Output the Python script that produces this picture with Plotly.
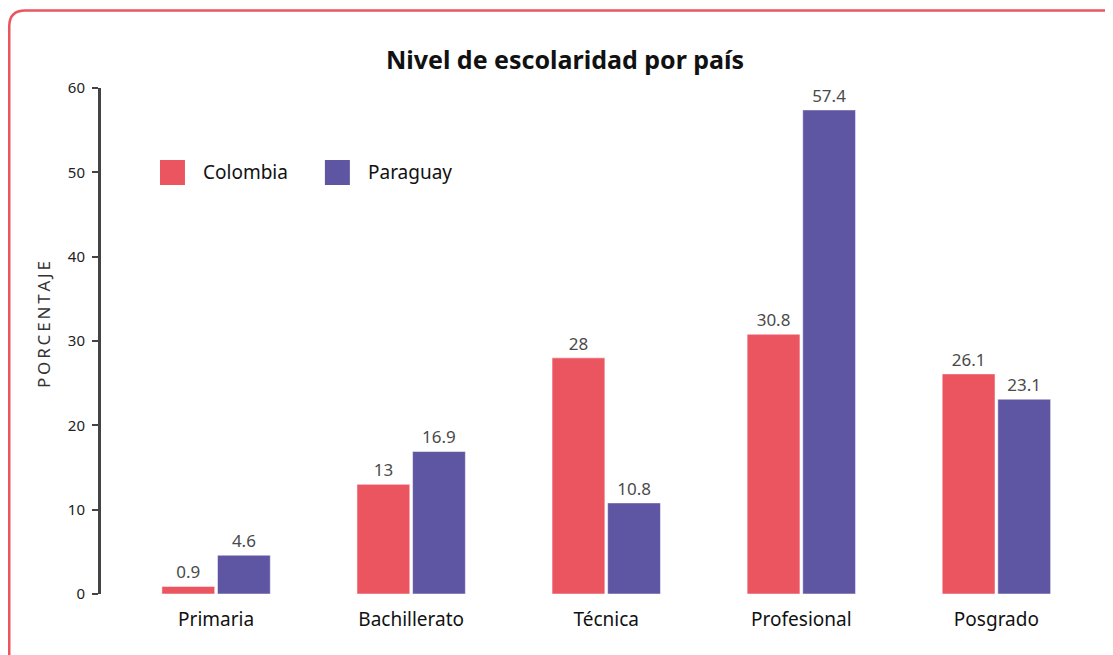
import plotly.graph_objects as go

niveles = ["Primaria", "Bachillerato", "Técnica", "Profesional", "Posgrado"]
colombia = [0.9, 13, 28, 30.8, 26.1]
paraguay = [4.6, 16.9, 10.8, 57.4, 23.1]

ROJO = "#EA5560"
MORADO = "#5E56A2"
FONT = "Noto Sans, sans-serif"

# figure sits 8px into the page (body margin); all pixel values below are figure pixels
W, H = 1105, 647
L, T = 93, 80
R, B = W - 1084.5, H - 586
pw, ph = W - L - R, H - T - B


def px(x):
    return (x - L) / pw


def py(y):
    return (H - B - y) / ph


fig = go.Figure()
for name, vals, color in [("Colombia", colombia, ROJO), ("Paraguay", paraguay, MORADO)]:
    fig.add_trace(go.Bar(
        x=niveles, y=vals, name=name, marker_color=color,
        marker_line=dict(color="rgba(255,255,255,0.5)", width=1),
        text=[f"{v:g}" for v in vals], textposition="outside",
        textfont=dict(size=17, color="#4a4a4a", family=FONT),
        cliponaxis=False, showlegend=False,
    ))

# page border (rounded rectangle running off the right/bottom edge)
x0, x1, y0, y1, r = 1.2, 1120, 2.5, 660, 16
border = (
    f"M {px(x0)},{py(y1)} L {px(x0)},{py(y0 + r)} "
    f"Q {px(x0)},{py(y0)} {px(x0 + r)},{py(y0)} "
    f"L {px(x1 - r)},{py(y0)} Q {px(x1)},{py(y0)} {px(x1)},{py(y0 + r)} "
    f"L {px(x1)},{py(y1)}"
)
shapes = [dict(type="path", xref="paper", yref="paper", path=border,
               line=dict(color=ROJO, width=2.5))]

# legend drawn by hand for the large square swatches
annotations = []
for lx, name, color in [(152, "Colombia", ROJO), (317, "Paraguay", MORADO)]:
    shapes.append(dict(type="rect", xref="paper", yref="paper",
                       x0=px(lx), x1=px(lx + 25), y0=py(177), y1=py(152),
                       fillcolor=color, line=dict(width=0)))
    annotations.append(dict(xref="paper", yref="paper", x=px(lx + 41), y=py(164),
                            text=name, showarrow=False, xanchor="left", yanchor="middle",
                            font=dict(size=19, color="#111", family=FONT)))

# y axis title
annotations.append(dict(xref="paper", yref="paper", x=px(35), y=py(317),
                        text="P\u2009O\u2009R\u2009C\u2009E\u2009N\u2009T\u2009A\u2009J\u2009E",
                        textangle=-90, showarrow=False, xanchor="center", yanchor="middle",
                        font=dict(size=17, color="#333", family=FONT)))

fig.update_layout(
    width=W, height=H,
    margin=dict(l=L, r=R, t=T, b=B),
    paper_bgcolor="white", plot_bgcolor="white",
    font=dict(family=FONT, color="#222"),
    title=dict(text="<b>Nivel de escolaridad por país</b>", x=557 / W, xanchor="center",
               y=1 - 52 / H, yanchor="middle", font=dict(size=25, color="#111")),
    barmode="group", bargap=0.43, bargroupgap=0.05,
    shapes=shapes, annotations=annotations,
)
fig.update_xaxes(range=[-0.59, 4.49], showline=False, showgrid=False, ticks="",
                 ticklabelstandoff=12, tickfont=dict(size=19, color="#111"))
fig.update_yaxes(range=[0, 60], dtick=10, showgrid=False, zeroline=False,
                 showline=True, linecolor="#444", linewidth=3,
                 ticks="outside", ticklen=6, tickwidth=2, tickcolor="#444",
                 ticklabelstandoff=4, tickfont=dict(size=15, color="#222"))

fig.write_html("out.html")
